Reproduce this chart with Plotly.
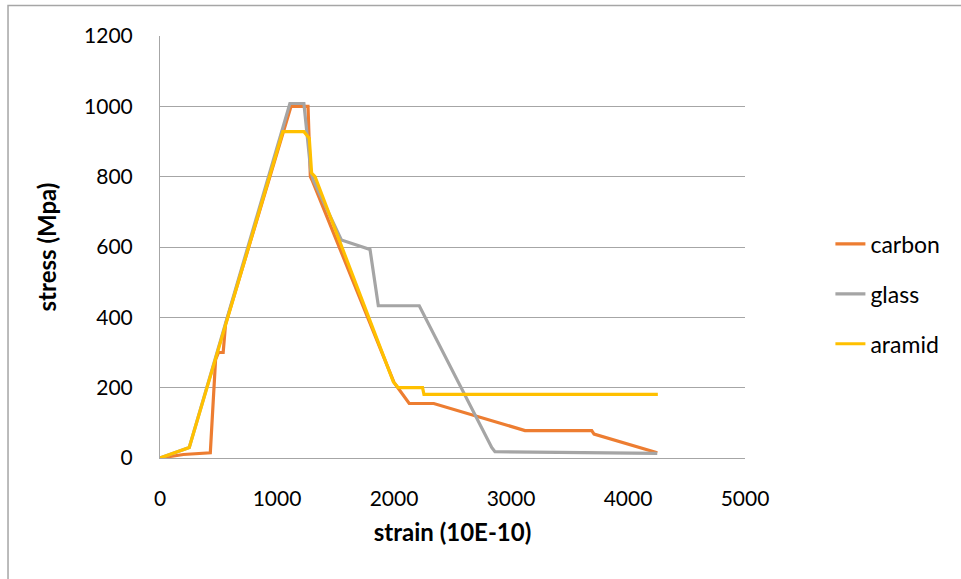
import plotly.graph_objects as go

# Data
carbon_x = [0, 200, 430, 475, 500, 540, 560, 1120, 1265, 1285, 1300, 2000, 2130, 2340, 3120, 3690, 3710, 4250]
carbon_y = [0, 10, 15, 280, 300, 300, 380, 1000, 1000, 800, 790, 215, 155, 155, 78, 78, 68, 15]

glass_x = [0, 250, 1110, 1230, 1288, 1310, 1550, 1795, 1866, 2216, 2835, 2863, 4250]
glass_y = [0, 30, 1008, 1008, 819, 790, 620, 593, 433, 433, 30, 18, 13]

aramid_x = [0, 250, 1050, 1230, 1276, 1296, 1325, 1994, 2036, 2244, 2256, 4255]
aramid_y = [0, 30, 928, 928, 909, 810, 800, 217, 200, 200, 181, 181]

series = [
    ("carbon", carbon_x, carbon_y, "#ED7D31"),
    ("glass", glass_x, glass_y, "#A5A5A5"),
    ("aramid", aramid_x, aramid_y, "#FFC000"),
]

FONT = "Lato, Liberation Sans, sans-serif"

fig = go.Figure()
for name, xs, ys, col in series:
    fig.add_trace(go.Scatter(
        x=xs, y=ys, mode="lines", name=name, legendgroup=name,
        line=dict(color=col, width=3.2),
    ))

fig.update_layout(
    width=961, height=579,
    margin=dict(l=160, r=216, t=36, b=121, autoexpand=False),
    paper_bgcolor="white", plot_bgcolor="white",
    font=dict(family=FONT, size=21, color="#000000"),
    showlegend=True,
    legend=dict(
        x=1.146, y=0.3886, xanchor="left", yanchor="middle",
        font=dict(family=FONT, size=23, color="#000000"),
        traceorder="grouped", tracegroupgap=17,
        bgcolor="rgba(0,0,0,0)",
    ),
    shapes=[dict(
        type="rect", xref="paper", yref="paper",
        x0=-0.2598, x1=1.6, y0=-0.6, y1=1.0723,
        line=dict(color="#A6A6A6", width=1.5), fillcolor="rgba(0,0,0,0)", layer="below",
    )],
)

fig.update_xaxes(
    range=[0, 5000], dtick=1000, tick0=0,
    showgrid=False, zeroline=False,
    showline=True, linecolor="#A6A6A6", linewidth=1,
    ticks="", ticklabelstandoff=22,
    tickfont=dict(family=FONT, size=21),
    title=dict(text="<b>strain (10E-10)</b>", font=dict(family=FONT, size=24), standoff=14),
)
fig.update_yaxes(
    range=[0, 1200], dtick=200, tick0=0,
    showgrid=True, gridcolor="#A6A6A6", gridwidth=1,
    zeroline=False,
    showline=True, linecolor="#A6A6A6", linewidth=1,
    ticks="", ticklabelstandoff=22,
    tickfont=dict(family=FONT, size=21),
    title=dict(text="<b>stress (Mpa)</b>", font=dict(family=FONT, size=24), standoff=20),
)

fig.write_html("out.html")
